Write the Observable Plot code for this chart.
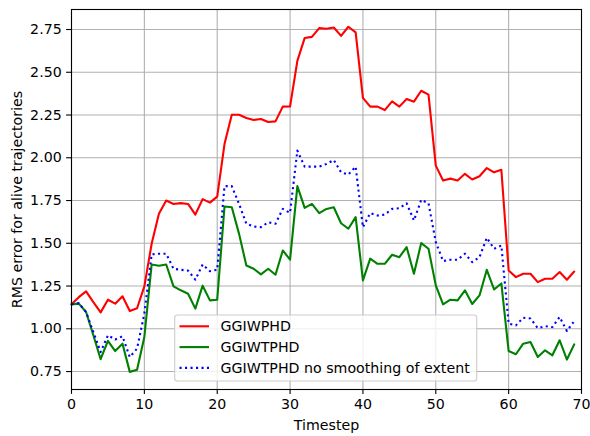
<!DOCTYPE html>
<html><head><meta charset="utf-8">
<script src="https://cdn.jsdelivr.net/npm/d3@7"></script>
<script src="https://cdn.jsdelivr.net/npm/@observablehq/plot@0.6"></script>
<style>body{margin:0;background:#fff} #chart{width:590px;height:436px}</style>
</head><body><div id="chart"></div>
<script>
const timesteps = d3.range(0, 70);
const seriesNames = ["GGIWPHD", "GGIWTPHD", "GGIWTPHD no smoothing of extent"];
const ggiwphd = [
  1.143,1.185,1.219,1.156,1.096,1.170,1.147,1.190,1.104,1.120,
  1.248,1.497,1.672,1.750,1.730,1.735,1.730,1.668,1.758,1.738,
  1.773,2.080,2.252,2.252,2.233,2.221,2.227,2.209,2.213,2.299,
  2.300,2.567,2.700,2.707,2.758,2.754,2.762,2.713,2.766,2.733,
  2.350,2.299,2.299,2.279,2.330,2.299,2.344,2.328,2.392,2.369,
  1.954,1.867,1.878,1.867,1.906,1.873,1.892,1.940,1.915,1.930,
  1.341,1.302,1.322,1.322,1.273,1.293,1.293,1.332,1.287,1.335];
const ggiwtphd = [
  1.143,1.147,1.098,0.962,0.822,0.929,0.870,0.913,0.748,0.760,
  0.952,1.376,1.369,1.376,1.248,1.225,1.205,1.118,1.252,1.166,
  1.170,1.715,1.711,1.555,1.370,1.351,1.318,1.351,1.316,1.458,
  1.404,1.834,1.707,1.730,1.676,1.701,1.711,1.617,1.585,1.653,
  1.283,1.410,1.380,1.380,1.433,1.419,1.477,1.322,1.501,1.468,
  1.254,1.143,1.170,1.166,1.225,1.145,1.195,1.345,1.230,1.265,
  0.870,0.851,0.913,0.923,0.835,0.874,0.845,0.933,0.820,0.909];
const noSmoothing = [
  1.143,1.150,1.098,0.981,0.864,0.962,0.937,0.956,0.835,0.884,
  1.089,1.435,1.439,1.439,1.351,1.345,1.340,1.287,1.376,1.337,
  1.345,1.834,1.834,1.730,1.614,1.598,1.594,1.623,1.614,1.701,
  1.678,2.042,1.948,1.948,1.948,1.964,1.987,1.915,1.902,1.948,
  1.594,1.676,1.662,1.668,1.701,1.705,1.734,1.633,1.754,1.734,
  1.507,1.396,1.404,1.404,1.439,1.390,1.419,1.532,1.468,1.487,
  1.030,1.020,1.065,1.060,1.004,1.015,1.010,1.069,0.987,1.045];
const xTicks = [0, 10, 20, 30, 40, 50, 60, 70];
const yTicks = [0.75, 1.00, 1.25, 1.50, 1.75, 2.00, 2.25, 2.50, 2.75];

const colors = ["red", "green", "blue"];
const dashes = ["none", "none", "2.1,3.4"];
const rows = vals => vals.map((v, i) => ({t: timesteps[i], v}));
const allSeries = [ggiwphd, ggiwtphd, noSmoothing];
const fontSize = "14.2px";

const chart = Plot.plot({
  width: 590, height: 436,
  marginLeft: 71, marginRight: 9, marginTop: 9, marginBottom: 47,
  style: {fontFamily: "DejaVu Sans", fontSize, color: "black", background: "white"},
  x: {domain: [0, 70]},
  y: {domain: [0.645, 2.867]},
  marks: [
    Plot.gridX(xTicks, {stroke: "#b0b0b0", strokeOpacity: 1, strokeWidth: 1.1}),
    Plot.gridY(yTicks, {stroke: "#b0b0b0", strokeOpacity: 1, strokeWidth: 1.1}),
    ...allSeries.map((s, k) => Plot.line(rows(s), {
      x: "t", y: "v", stroke: colors[k], strokeWidth: 2.1,
      strokeDasharray: k === 2 ? dashes[k] : undefined,
      strokeLinecap: k === 2 ? "butt" : "round", strokeLinejoin: "round"
    })),
    Plot.frame({stroke: "black", strokeWidth: 1.1}),
    Plot.axisX(xTicks, {tickSize: 4.9, tickPadding: 4.9, strokeWidth: 1.1,
      label: "Timestep", labelAnchor: "center", labelArrow: "none", labelOffset: 40}),
    Plot.axisY(yTicks, {tickSize: 4.9, tickPadding: 4.9, strokeWidth: 1.1, tickFormat: d3.format(".2f"),
      label: "RMS error for alive trajectories", labelAnchor: "center", labelArrow: "none", labelOffset: 60})
  ]
});
document.getElementById("chart").appendChild(chart);

// legend (matplotlib-style box inside axes)
const svg = d3.select(chart);
const lg = svg.append("g")
  .style("font-family", "DejaVu Sans").style("font-size", fontSize);
lg.append("rect").attr("x", 174.7).attr("y", 315).attr("width", 302).attr("height", 66)
  .attr("rx", 2.8).style("fill", "white").style("fill-opacity", 0.8)
  .style("stroke", "#cccccc").style("stroke-width", 1.1);
seriesNames.forEach((name, k) => {
  const cy = 326.3 + k * 20.8;
  lg.append("path").attr("d", `M179.5,${cy}H209`)
    .style("fill", "none").style("stroke", colors[k]).style("stroke-width", 2.1)
    .style("stroke-dasharray", dashes[k]).style("stroke-linecap", "butt");
  lg.append("text").attr("x", 220.5).attr("y", cy).attr("dy", "0.36em")
    .style("text-anchor", "start").style("fill", "black").text(name);
});
</script>
</body></html>
